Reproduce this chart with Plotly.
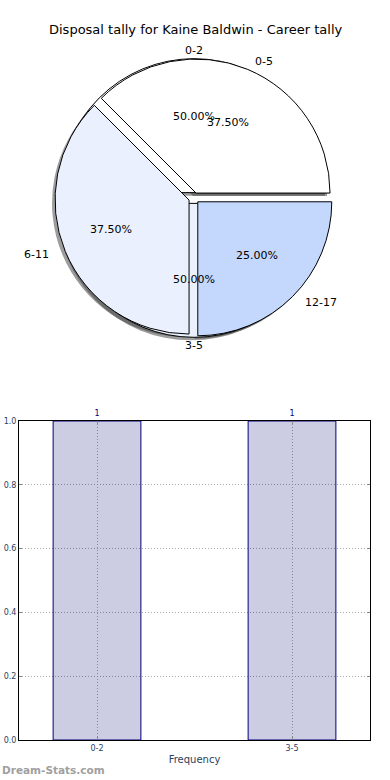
import math
import plotly.graph_objects as go

TITLE = "Disposal tally for Kaine Baldwin - Career tally"

# inner (first) pie: disposal bins
pie1_labels = ["0-2", "3-5"]
pie1_values = [1, 1]
pie1_colors = ["#ffffff", "#eaf0fd"]

# outer (second) pie overlay
pie2_labels = ["0-5", "6-11", "12-17"]
pie2_values = [3, 3, 2]
pie2_colors = ["#ffffff", "#eaf0fd", "#c4d8fe"]

# bar chart
bar_categories = ["0-2", "3-5"]
bar_values = [1, 1]
y_ticks = [0.0, 0.2, 0.4, 0.6, 0.8, 1.0]

W, H = 390, 780
PULL = 0.04
# pie geometry (pixels, from top-left)
CX, CY, R = 194, 198, 134
SX, SY = 1.05, 0.95   # percent-label spread (reference pie is slightly elliptical)
LX, LY = 1.05, 1.0    # outer label spread
SHADOW = 3

def dom(cx, cy):
    half = R * (1 + PULL)
    return dict(x=[(cx - half) / W, (cx + half) / W],
                y=[(H - (cy + half)) / H, (H - (cy - half)) / H])

fig = go.Figure()

def add_pie(labels, values, colors, shadow):
    d = dom(CX - SHADOW, CY + SHADOW) if shadow else dom(CX, CY)
    labs = ["shadow " + l for l in labels] if shadow else labels
    cols = ["rgba(60,60,60,0.5)"] * len(values) if shadow else colors
    # first wedge starts at 3 o'clock and wedges run counterclockwise
    rot = 90 - 360 * values[0] / sum(values)
    fig.add_trace(go.Pie(
        labels=labs, values=values, sort=False, direction="counterclockwise",
        rotation=rot, pull=[PULL] * len(values), domain=d,
        marker=dict(colors=cols,
                    line=dict(color="rgba(0,0,0,0)" if shadow else "#000000",
                              width=0 if shadow else 1)),
        textinfo="none", hoverinfo="skip" if shadow else "label+percent",
        showlegend=False,
    ))

add_pie(pie1_labels, pie1_values, pie1_colors, True)
add_pie(pie2_labels, pie2_values, pie2_colors, True)
add_pie(pie1_labels, pie1_values, pie1_colors, False)
add_pie(pie2_labels, pie2_values, pie2_colors, False)

annotations = []

def label_pie(labels, values):
    total = sum(values)
    start = 0.0
    for lab, v in zip(labels, values):
        frac = v / total
        mid = (start + frac / 2) * 2 * math.pi
        start += frac
        ox = PULL * R * math.cos(mid)
        oy = PULL * R * math.sin(mid)
        px = CX + ox + 0.6 * R * SX * math.cos(mid)
        py = CY - oy - 0.6 * R * SY * math.sin(mid)
        annotations.append(dict(x=px / W, y=1 - py / H, xref="paper", yref="paper",
                                xanchor="center", yanchor="middle",
                                text=f"{frac*100:.2f}%", showarrow=False,
                                font=dict(size=11, color="#000000")))
        lx = CX + 1.1 * R * LX * math.cos(mid)
        ly = CY - 1.1 * R * LY * math.sin(mid)
        annotations.append(dict(x=lx / W, y=1 - ly / H, xref="paper", yref="paper",
                                text=lab, showarrow=False, yanchor="middle",
                                xanchor="center" if abs(math.cos(mid)) < 0.3 else ("left" if math.cos(mid) > 0 else "right"),
                                font=dict(size=11, color="#000000")))

label_pie(pie1_labels, pie1_values)
label_pie(pie2_labels, pie2_values)

fig.add_trace(go.Bar(
    x=bar_categories, y=bar_values, width=0.45,
    marker=dict(color="rgba(0,0,110,0.2)", line=dict(color="#000080", width=1)),
    text=[str(v) for v in bar_values], textposition="outside",
    textfont=dict(size=8, color="#000080"), cliponaxis=False,
    showlegend=False, xaxis="x", yaxis="y",
))

annotations.append(dict(x=0.5, y=1 - 30 / H, xref="paper", yref="paper",
                        xanchor="center", yanchor="middle",
                        text=TITLE, showarrow=False,
                        font=dict(size=13, color="#000000")))
annotations.append(dict(x=0, y=1 - 770 / H, xref="paper", yref="paper",
                        xanchor="left", yanchor="middle",
                        text="<b>Dream-Stats.com</b>", showarrow=False,
                        font=dict(size=10.5, color="#a0a0a0")))

grid = dict(showgrid=True, gridcolor="#a8a8a8", griddash="1px,2px", gridwidth=1)

fig.update_layout(
    width=W, height=H, margin=dict(l=0, r=0, t=0, b=0, autoexpand=False),
    paper_bgcolor="white", plot_bgcolor="white",
    font=dict(family="DejaVu Sans"),
    annotations=annotations,
    xaxis=dict(domain=[19 / W, 370 / W], range=[-0.4, 1.4], type="category",
               automargin=False,
               showline=True, linecolor="black", linewidth=1, mirror="allticks",
               ticks="inside", ticklen=3, tickcolor="#888888",
               tickfont=dict(size=8), title=dict(text="Frequency", font=dict(size=10), standoff=4),
               zeroline=False, fixedrange=True, **grid),
    yaxis=dict(domain=[40 / H, 359 / H], range=[0, 1], tickvals=y_ticks,
               automargin=False,
               ticktext=[f"{v:.1f}" for v in y_ticks],
               showline=True, linecolor="black", linewidth=1, mirror="allticks",
               ticks="inside", ticklen=3, tickcolor="#888888",
               tickfont=dict(size=8), zeroline=False, fixedrange=True, **grid),
)

fig.write_html("out.html", config={"displayModeBar": False},
               post_script="document.body.style.margin='0';")
